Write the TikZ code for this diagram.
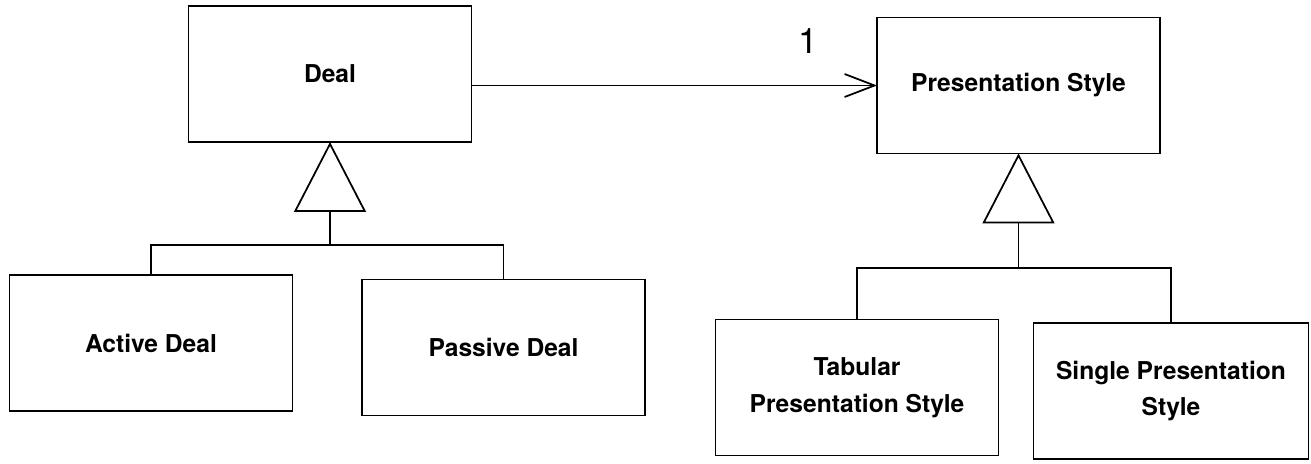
\documentclass[tikz,border=0pt]{standalone}
\usepackage{fontspec}
\setmainfont{TeX Gyre Heros}
\usepackage{tikz}
\usetikzlibrary{arrows.meta, positioning}
\tikzset{
  cls/.style={rectangle, draw, line width=1pt, inner sep=0pt, outer sep=0pt,
              minimum width=5.66cm, minimum height=2.72cm, align=center,
              font=\bfseries\fontsize{14}{21}\selectfont},
  gen/.style={-{Triangle[open, length=1.4cm, width=1.44cm]}, line width=1pt},
  assoc/.style={-{Straight Barb[length=6mm, width=4.6mm]}, line width=1pt},
  tree/.style={line width=1pt}
}
\begin{document}
\begin{tikzpicture}[x=0.02cm, y=-0.02cm]
  \useasboundingbox (0,0) rectangle (1311,463);
  % superclasses
  \node[cls] (deal) at (330,74) {Deal};
  \node[cls] (pstyle) at (1018.5,85.5) {Presentation Style};
  % subclasses
  \node[cls] (active) at (151,343) {Active Deal};
  \node[cls] (passive) at (503.5,347.5) {Passive Deal};
  \node[cls] (tabular) at (857,387.5) {Tabular\\Presentation Style};
  \node[cls, minimum width=5.5cm] (single) at (1171,391) {Single Presentation\\Style};
  % junctions of the inheritance trees
  \coordinate (jdeal) at (330,245);
  \coordinate (jstyle) at (1018.5,268);
  % association
  \draw[assoc] (deal.east |- pstyle.west) -- node[pos=0.83, anchor=south, yshift=5mm,
    font=\fontsize{20}{24}\selectfont] (mult) {1} (pstyle.west);
  % generalisation
  \draw[gen] (jdeal) -- (deal.south);
  \draw[tree] (active.north) |- (jdeal) -| (passive.north);
  \draw[gen] (jstyle) -- (pstyle.south);
  \draw[tree] (tabular.north) |- (jstyle) -| (single.north);
\end{tikzpicture}
\end{document}
